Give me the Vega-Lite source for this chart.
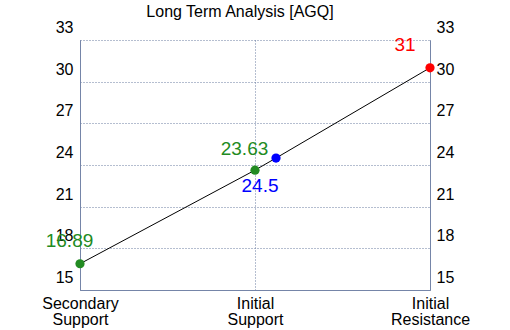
{
  "$schema": "https://vega.github.io/schema/vega-lite/v6.json",
  "width": 350,
  "height": 250,
  "autosize": {"type": "none"},
  "padding": {"left": 80, "top": 40, "right": 80, "bottom": 40},
  "background": "white",
  "title": {
    "text": "Long Term Analysis [AGQ]",
    "font": "Liberation Sans",
    "fontSize": 16,
    "fontWeight": "normal",
    "color": "black",
    "frame": "group",
    "anchor": "middle",
    "baseline": "alphabetic",
    "offset": -13,
    "dx": -15
  },
  "config": {
    "view": {"stroke": null},
    "axis": {
      "labelFont": "Liberation Sans",
      "labelFontSize": 16,
      "labelColor": "black",
      "domainColor": "#7585a8",
      "gridColor": "#6a7ca0",
      "gridDash": [1, 2],
      "gridOpacity": 1,
      "ticks": false,
      "title": null,
      "labelFlush": false,
      "labelOverlap": false
    }
  },
  "data": {
    "values": [
      {"name": "Secondary Support", "pos": 0, "value": 16.89, "kind": "Support", "text": "16.89"},
      {"name": "Initial Support", "pos": 1, "value": 23.63, "kind": "Support", "text": "23.63"},
      {"name": "Pivot", "pos": 1.12, "value": 24.5, "kind": "Pivot", "text": "24.5"},
      {"name": "Initial Resistance", "pos": 2, "value": 31, "kind": "Resistance", "text": "31"}
    ]
  },
  "encoding": {
    "x": {
      "field": "pos",
      "type": "quantitative",
      "scale": {"domain": [0, 2], "nice": false, "zero": false},
      "axis": {
        "values": [0, 1, 2],
        "grid": true,
        "labelPadding": 5,
        "labelLineHeight": 16,
        "labelExpr": "datum.value == 0 ? ['Secondary', 'Support'] : datum.value == 1 ? ['Initial', 'Support'] : ['Initial', 'Resistance']"
      }
    }
  },
  "layer": [
    {
      "mark": {"type": "line", "color": "black", "strokeWidth": 1},
      "encoding": {
        "y": {
          "field": "value",
          "type": "quantitative",
          "scale": {"domain": [15, 33], "nice": false, "zero": false},
          "axis": {
            "orient": "left",
            "values": [15, 18, 21, 24, 27, 30, 33],
            "grid": true,
            "labelPadding": 7,
            "labelOffset": -12.5,
            "labelBaseline": "middle"
          }
        }
      }
    },
    {
      "mark": {"type": "circle", "size": 85, "opacity": 1},
      "encoding": {
        "y": {
          "field": "value",
          "type": "quantitative",
          "scale": {"domain": [15, 33], "nice": false, "zero": false},
          "axis": {
            "orient": "right",
            "values": [15, 18, 21, 24, 27, 30, 33],
            "grid": false,
            "labelPadding": 6,
            "labelOffset": -12.5,
            "labelBaseline": "middle"
          }
        },
        "color": {
          "field": "kind",
          "type": "nominal",
          "scale": {"domain": ["Support", "Pivot", "Resistance"], "range": ["#228B22", "#0000FF", "#FF0000"]},
          "legend": null
        }
      }
    },
    {
      "transform": [{"filter": "datum.text == '16.89'"}],
      "mark": {"type": "text", "font": "Liberation Sans", "fontSize": 19, "dx": -10.5, "dy": -23, "baseline": "middle", "align": "center"},
      "encoding": {
        "y": {"field": "value", "type": "quantitative", "axis": null},
        "text": {"field": "text"},
        "color": {"field": "kind", "type": "nominal", "legend": null}
      }
    },
    {
      "transform": [{"filter": "datum.text == '23.63'"}],
      "mark": {"type": "text", "font": "Liberation Sans", "fontSize": 19, "dx": -10.5, "dy": -21, "baseline": "middle", "align": "center"},
      "encoding": {
        "y": {"field": "value", "type": "quantitative", "axis": null},
        "text": {"field": "text"},
        "color": {"field": "kind", "type": "nominal", "legend": null}
      }
    },
    {
      "transform": [{"filter": "datum.text == '24.5'"}],
      "mark": {"type": "text", "font": "Liberation Sans", "fontSize": 19, "dx": -16, "dy": 28, "baseline": "middle", "align": "center"},
      "encoding": {
        "y": {"field": "value", "type": "quantitative", "axis": null},
        "text": {"field": "text"},
        "color": {"field": "kind", "type": "nominal", "legend": null}
      }
    },
    {
      "transform": [{"filter": "datum.text == '31'"}],
      "mark": {"type": "text", "font": "Liberation Sans", "fontSize": 19, "dx": -25, "dy": -23, "baseline": "middle", "align": "center"},
      "encoding": {
        "y": {"field": "value", "type": "quantitative", "axis": null},
        "text": {"field": "text"},
        "color": {"field": "kind", "type": "nominal", "legend": null}
      }
    }
  ],
  "resolve": {"axis": {"y": "independent"}}
}
